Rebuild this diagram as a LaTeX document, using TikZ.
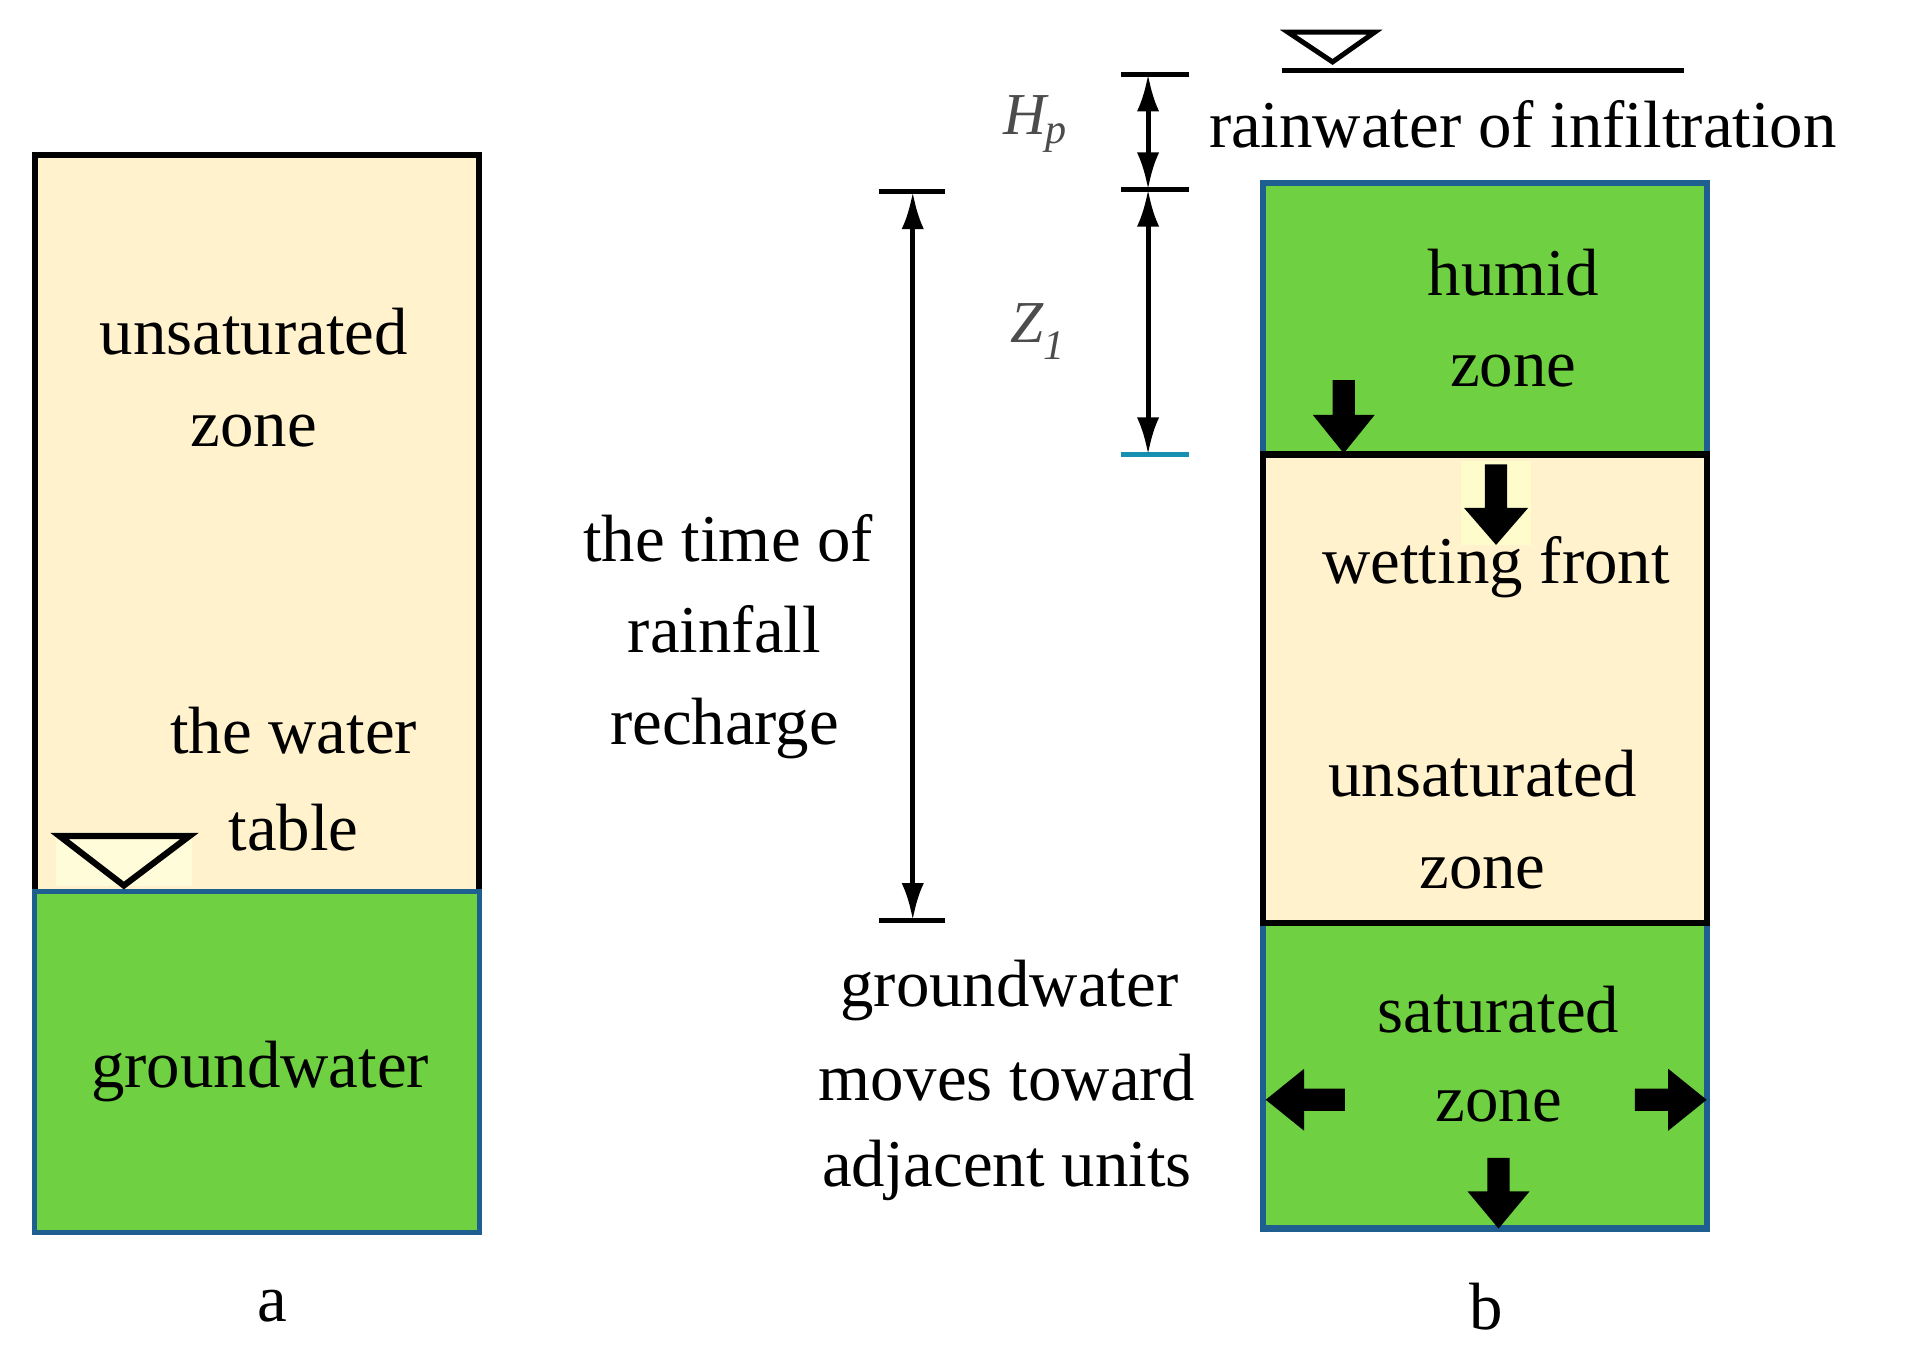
\documentclass[tikz,border=0pt]{standalone}
\usepackage{fontspec}
\setmainfont{Liberation Serif}
\begin{document}
\begin{tikzpicture}[x=1pt,y=-1pt,
  lbl/.style={font=\fontsize{54}{60}\selectfont,inner sep=0pt},
  sym/.style={font=\fontsize{48}{54}\selectfont\itshape,text=black!70,inner sep=0pt},
  tan/.style={fill=tanc},grn/.style={fill=grnc},
  dim/.style={line width=4pt,{Latex[length=30pt,width=18pt]}-{Latex[length=30pt,width=18pt]}},
  tick/.style={line width=4pt},
  blk/.style={fill=black}]
\usetikzlibrary{arrows.meta}
\definecolor{tanc}{HTML}{FFF2CC}
\definecolor{grnc}{HTML}{6FD041}
\definecolor{bluec}{HTML}{1F5F8F}
\useasboundingbox (0,0) rectangle (1560,1098);
% left column
\path[tan] (28,125) rectangle (387,720);
\draw[line width=5pt] (28,720) -- (28,125) -- (387,125) -- (387,720);
\draw[grn,draw=bluec,line width=4pt] (28,720) rectangle (387,995);
\fill[yellow!15] (45,672) rectangle (155,715);
\draw[line width=5pt] (48,675) -- (153,675) -- (100,715) -- cycle;
\node[lbl] (u1) at (205,268) {unsaturated};
\node[lbl] (u2) at (205,348) {zone};
\node[lbl] (w1) at (237,590) {the water};
\node[lbl] (w2) at (237,668) {table};
\node[lbl] (g) at (210,865) {groundwater};
\node[lbl] (a) at (220,1055) {a};
% middle
\coordinate (t1) at (737,155); \coordinate (t2) at (737,743);
\draw[tick] (710,155) -- (763,155); \draw[tick] (710,743) -- (763,743);
\draw[dim] (t1) -- (t2);
\node[lbl] at (588,435) {the time of};
\node[lbl] at (585,508) {rainfall};
\node[lbl] at (585,588) {recharge};
\node[lbl] at (815,800) {groundwater};
\node[lbl] at (813,870) {moves toward};
\node[lbl] at (813,945) {adjacent units};
% Hp / Z1
\coordinate (h1) at (927,60); \coordinate (h2) at (927,153); \coordinate (h3) at (927,367);
\draw[tick] (905,60) -- (960,60); \draw[tick] (905,153) -- (960,153);
\draw[line width=4pt,draw=bluec!70!cyan] (905,367) -- (960,367);
\draw[dim] (h1) -- (h2);
\draw[dim] (h2) -- (h3);
\node[sym] at (836,100) {H\textsubscript{\fontsize{34}{34}\selectfont p}};
\node[sym] at (838,268) {Z\textsubscript{\fontsize{34}{34}\selectfont 1}};
% water surface
\draw[line width=4pt] (1035,57) -- (1360,57);
\draw[line width=4pt] (1040,26) -- (1110,26) -- (1076,50) -- cycle;
\node[lbl,anchor=west] at (976,100) {rainwater of infiltration};
% right column
\draw[grn,draw=bluec,line width=5pt] (1020,148) rectangle (1378,367);
\draw[grn,draw=bluec,line width=5pt] (1020,745) rectangle (1378,992);
\draw[tan,draw=black,line width=5pt] (1020,367) rectangle (1378,745);
\node[lbl] at (1222,220) {humid};
\node[lbl] at (1222,300) {zone};
\node[lbl] at (1208,458) {wetting front};
\node[lbl] at (1197,625) {unsaturated};
\node[lbl] at (1197,705) {zone};
\node[lbl] at (1210,815) {saturated};
\node[lbl] at (1210,893) {zone};
\node[lbl] at (1200,1055) {b};
% block arrows
\fill[yellow!20] (1180,372) rectangle (1236,440);
\fill[blk] (1076,307) -- (1094,307) -- (1094,335) -- (1110,335) -- (1085,366) -- (1060,335) -- (1076,335) -- cycle;
\fill[blk] (1199,375) -- (1217,375) -- (1217,410) -- (1234,410) -- (1208,440) -- (1182,410) -- (1199,410) -- cycle;
\fill[blk] (1201,935) -- (1219,935) -- (1219,962) -- (1235,962) -- (1210,992) -- (1185,962) -- (1201,962) -- cycle;
\fill[blk] (1086,879) -- (1086,897) -- (1053,897) -- (1053,913) -- (1022,888) -- (1053,863) -- (1053,879) -- cycle;
\fill[blk] (1320,879) -- (1320,897) -- (1347,897) -- (1347,913) -- (1378,888) -- (1347,863) -- (1347,879) -- cycle;
\end{tikzpicture}
\end{document}
